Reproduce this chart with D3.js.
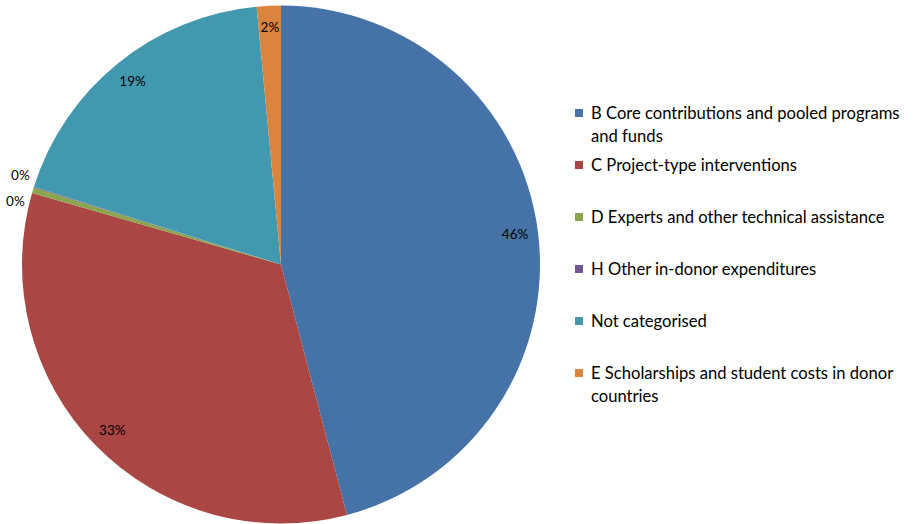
<!DOCTYPE html>
<html><head><meta charset="utf-8">
<script src="https://cdn.jsdelivr.net/npm/d3@7"></script>
<style>body{margin:0;background:#fff}svg{display:block}</style>
</head><body>
<svg id="c" width="915" height="524"></svg>
<script>
const categories = ["B Core contributions and pooled programs and funds","C Project-type interventions","D Experts and other technical assistance","H Other in-donor expenditures","Not categorised","E Scholarships and student costs in donor countries"];
const legendLines = [["B Core contributions and pooled programs","and funds"],["C Project-type interventions"],["D Experts and other technical assistance"],["H Other in-donor expenditures"],["Not categorised"],["E Scholarships and student costs in donor","countries"]];
const values = [45.9, 33.55, 0.35, 0.05, 18.65, 1.5];
const labels = ["46%","33%","0%","0%","19%","2%"];
const colors = ["#4572A7","#AA4643","#89A54E","#71588F","#4198AF","#DB843D"];

const svg = d3.select("#c");
const cx = 281, cy = 264.5, r = 259;
const data = categories.map((c,i)=>({c, v:values[i], l:labels[i], col:colors[i], lines:legendLines[i]}));
const pie = d3.pie().sort(null).value(d=>d.v);
const arcs = pie(data);
const arc = d3.arc().innerRadius(0).outerRadius(r);
const g = svg.append("g").attr("transform",`translate(${cx},${cy})`);
g.selectAll("path").data(arcs).join("path").attr("d",arc).attr("fill",d=>d.data.col);

const labelArc = d3.arc().innerRadius(236).outerRadius(236);
const outArc = d3.arc().innerRadius(272).outerRadius(272);
const font = "Lato, 'Liberation Sans', sans-serif";
g.selectAll("text.lbl").data(arcs).join("text").attr("class","lbl")
 .attr("transform",(d,i)=>{
   const small = d.data.v < 1;
   let [x,y] = small ? outArc.centroid(d) : labelArc.centroid(d);
   if (small) { y += (i===2 ? 14 : -8); x += (i===2? -5 : -1); }
   if (i===5) { y += -2; }
   return `translate(${x},${y})`;
 })
 .attr("text-anchor","middle").attr("dominant-baseline","central")
 .attr("font-family",font).attr("font-size",13.5).attr("fill","#000")
 .text(d=>d.data.l);

const lg = svg.append("g").attr("transform","translate(575,0)");
const ys = [113,165,217,269,321,373];
data.forEach((d,i)=>{
  const row = lg.append("g").attr("transform",`translate(0,${ys[i]})`);
  row.append("rect").attr("x",0).attr("y",-4).attr("width",8).attr("height",8).attr("fill",d.col);
  const t = row.append("text").attr("x",16).attr("y",0).attr("dominant-baseline","central")
    .attr("font-family",font).attr("font-size",16.6).attr("fill","#000");
  d.lines.forEach((ln,j)=>t.append("tspan").attr("x",16).attr("dy",j===0?0:22.5).text(ln));
});
</script>
</body></html>
